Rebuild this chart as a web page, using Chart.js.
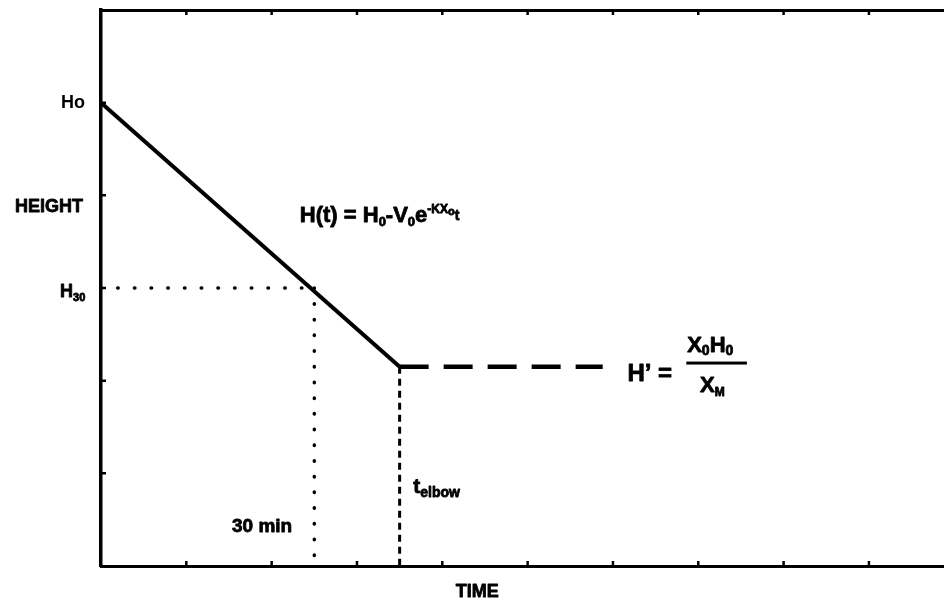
<!DOCTYPE html>
<html>
<head>
<meta charset="utf-8">
<script src="https://cdn.jsdelivr.net/npm/chart.js@4.4.0/dist/chart.umd.min.js"></script>
<style>
  html, body { margin: 0; padding: 0; background: #fff; }
  #chart { display: block; }
</style>
</head>
<body>
<canvas id="chart" width="944" height="598"></canvas>
<script>
// x = time, y = height, both in tick units
const solidTime = [0, 3.5];
const solidHeight = [5, 2.15];
const plateauTime = [3.5, 5.88];
const plateauHeight = [2.15, 2.15];
const h30Time = [0, 2.5];
const h30Height = [3, 3];
const t30Time = [2.5, 2.5];
const t30Height = [3, 0];
const elbowTime = [3.5, 3.5];
const elbowHeight = [2.15, 0];
const yTickLabels = { 5: 'Ho' };
const timeMax = 9.88;
const heightMax = 6;

const FONT = '"Liberation Sans", Arial, Helvetica, sans-serif';

function pts(xs, ys) {
    return xs.map((x, i) => ({ x: x, y: ys[i] }));
}

// text pieces: [text, size, dy]
const labels = [
    { x: 2.33, y: 3.71, parts: [['H(t) = H', 22], ['0', 13, 4], ['-V', 22], ['0', 13, 4], ['e', 22], ['-KX', 12, -9], ['o', 11, -7], ['t', 14, -2]] },
    { x: 6.17, y: 2.0, parts: [['H\u2019 =', 24]] },
    { x: 6.87, y: 2.31, parts: [['X', 22], ['0', 14, 3], ['H', 22], ['0', 14, 3]] },
    { x: 7.02, y: 1.88, parts: [['X', 22], ['M', 12, 4]] },
    { x: 1.535, y: 0.367, parts: [['30 min', 19]] },
    { x: 3.66, y: 0.79, parts: [['t', 21], ['elbow', 14, 4]] },
    { x: -0.21, y: 3.82, parts: [['HEIGHT', 18]], align: 'right' },
    { x: -0.48, y: 2.9, parts: [['H', 18], ['30', 11, 4]] },
    { x: 4.41, y: -0.33, parts: [['TIME', 18]], align: 'center' }
];
const fractionBar = { x0: 6.86, x1: 7.57, y: 2.19 };

function runWidth(ctx, parts) {
    let w = 0;
    parts.forEach(p => {
        ctx.font = 'bold ' + p[1] + 'px ' + FONT;
        w += ctx.measureText(p[0]).width;
    });
    return w;
}

const figurePlugin = {
    id: 'figure',
    afterDatasetsDraw(chart) {
        const ctx = chart.ctx;
        const xs = chart.scales.x, ys = chart.scales.y, xt = chart.scales.xTop;
        const area = chart.chartArea;
        ctx.save();
        ctx.strokeStyle = '#000';
        ctx.fillStyle = '#000';
        ctx.lineWidth = 2.5;
        // inward tick marks
        ctx.beginPath();
        xs.ticks.forEach(t => {
            if (t.value <= 0 || t.value % 1 !== 0) return;
            const px = xs.getPixelForValue(t.value);
            ctx.moveTo(px, area.bottom);
            ctx.lineTo(px, area.bottom - 5);
        });
        xt.ticks.forEach(t => {
            if (t.value <= 0 || t.value % 1 !== 0) return;
            const px = xt.getPixelForValue(t.value);
            ctx.moveTo(px, area.top);
            ctx.lineTo(px, area.top + 5);
        });
        ys.ticks.forEach(t => {
            if (t.value <= 0 || t.value >= heightMax) return;
            const py = ys.getPixelForValue(t.value);
            ctx.moveTo(area.left, py);
            ctx.lineTo(area.left + 5, py);
        });
        ctx.stroke();

        // text, lightly stroked to match the heavy print
        ctx.textBaseline = 'alphabetic';
        ctx.textAlign = 'left';
        ctx.lineWidth = 0.8;
        ctx.lineJoin = 'round';
        labels.forEach(l => {
            let x = xs.getPixelForValue(l.x);
            const y = ys.getPixelForValue(l.y);
            const w = runWidth(ctx, l.parts);
            if (l.align === 'right') x -= w;
            if (l.align === 'center') x -= w / 2;
            l.parts.forEach(p => {
                ctx.font = 'bold ' + p[1] + 'px ' + FONT;
                ctx.fillText(p[0], x, y + (p[2] || 0));
                ctx.strokeText(p[0], x, y + (p[2] || 0));
                x += ctx.measureText(p[0]).width;
            });
        });
        const bx0 = xs.getPixelForValue(fractionBar.x0);
        const bx1 = xs.getPixelForValue(fractionBar.x1);
        const by = ys.getPixelForValue(fractionBar.y);
        ctx.fillRect(bx0, by - 1.5, bx1 - bx0, 3);
        ctx.restore();
    }
};

const lineBase = { showLine: true, pointRadius: 0, borderColor: '#000', fill: false, clip: false };

new Chart(document.getElementById('chart'), {
    type: 'scatter',
    data: {
        datasets: [
            Object.assign({}, lineBase, { data: pts(solidTime, solidHeight), borderWidth: 4 }),
            Object.assign({}, lineBase, { data: pts(plateauTime, plateauHeight), borderWidth: 4.5, borderDash: [29, 15] }),
            Object.assign({}, lineBase, { data: pts(h30Time, h30Height), borderWidth: 3.5, borderDash: [0.5, 16.2], borderCapStyle: 'round' }),
            Object.assign({}, lineBase, { data: pts(t30Time, t30Height), borderWidth: 3.5, borderDash: [0.5, 15.2], borderCapStyle: 'round' }),
            Object.assign({}, lineBase, { data: pts(elbowTime, elbowHeight), borderWidth: 3, borderDash: [7, 5] })
        ]
    },
    options: {
        responsive: false,
        animation: false,
        layout: { padding: 0 },
        plugins: { legend: { display: false }, tooltip: { enabled: false } },
        scales: {
            x: {
                type: 'linear', position: 'bottom', min: 0, max: timeMax,
                ticks: { display: false, stepSize: 1 },
                grid: { display: false, drawTicks: false },
                border: { display: true, color: '#000', width: 3 },
                afterFit: s => { s.height = 32; s.paddingLeft = 0; s.paddingRight = 0; }
            },
            xTop: {
                type: 'linear', position: 'top', min: 0, max: timeMax,
                ticks: { display: false, stepSize: 1 },
                grid: { display: false, drawTicks: false },
                border: { display: true, color: '#000', width: 3 },
                afterFit: s => { s.height = 10; s.paddingLeft = 0; s.paddingRight = 0; }
            },
            y: {
                type: 'linear', min: 0, max: heightMax,
                ticks: {
                    stepSize: 1, padding: 16, color: '#000',
                    font: { family: FONT, size: 18, weight: 'bold' },
                    callback: v => yTickLabels[v] || ''
                },
                grid: { display: false, drawTicks: false },
                border: { display: true, color: '#000', width: 3.5 },
                afterFit: s => { s.width = 101; s.paddingTop = 0; s.paddingBottom = 0; }
            }
        }
    },
    plugins: [figurePlugin]
});
</script>
</body>
</html>
